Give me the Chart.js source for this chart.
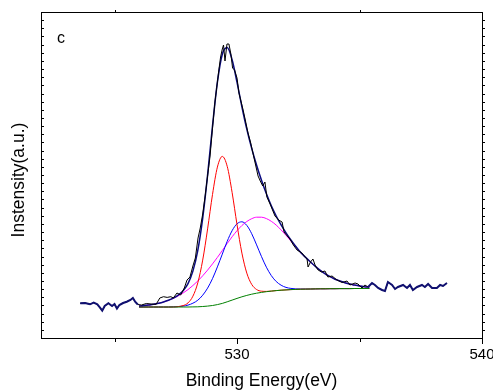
<!DOCTYPE html>
<html><head><meta charset="utf-8">
<script src="https://cdn.jsdelivr.net/npm/chart.js@4.4.1/dist/chart.umd.min.js"></script>
<style>html,body{margin:0;padding:0;background:#fff;overflow:hidden}#wrap{width:493px;height:392px;position:relative}</style>
</head><body><div id="wrap"><canvas id="c"></canvas></div>
<script>
// ---- Data (binding energy in eV, intensity in arbitrary units) ----
const rawEnergy = [523.6,523.8,524.0,524.15,524.3,524.4,524.5,524.6,524.75,524.9,525.0,525.1,525.2,525.35,525.5,525.65,525.75,525.85,525.95,526.1,526.3,526.5,526.7,526.85,527.0,527.15,527.3,527.4,527.55,527.7,527.85,527.96,528.08,528.2,528.3,528.41,528.5,528.6,528.7,528.82,528.9,529.0,529.1,529.18,529.27,529.33,529.4,529.45,529.51,529.59,529.67,529.75,529.82,529.9,530.0,530.08,530.15,530.24,530.33,530.45,530.55,530.65,530.75,530.86,530.95,531.05,531.14,531.22,531.35,531.45,531.55,531.7,531.84,531.92,532.05,532.16,532.3,532.45,532.65,532.78,532.86,532.9,533.0,533.1,533.2,533.31,533.45,533.59,533.71,533.88,534.08,534.29,534.49,534.61,534.82,534.94,535.1,535.22,535.35,535.51,535.63,535.76,535.92,536.04,536.16,536.33,536.45,536.57,536.78,536.94,537.06,537.18,537.35,537.55,537.67,537.8,537.96,538.16,538.29,538.41,538.57];
const rawCounts = [34.7,35.0,33.7,35.3,33.7,30.7,27.3,32.0,34.7,32.0,34.0,29.5,33.0,35.0,36.3,38.0,40.0,36.0,33.5,33.0,34.5,34.0,33.7,40.0,41.3,40.6,41.3,40.0,45.0,43.0,50.0,58.0,61.0,72.0,80.0,100.0,110.0,124.0,142.0,166.0,182.0,210.0,236.0,252.0,270.0,281.0,289.0,293.0,277.0,294.0,294.0,284.0,270.0,268.0,260.0,245.0,238.0,229.0,219.0,205.0,196.0,185.0,174.0,162.0,157.0,152.0,156.0,141.0,134.0,128.0,122.0,118.0,116.0,106.0,102.0,99.0,93.0,88.0,85.0,81.0,79.0,71.0,76.0,79.0,72.0,68.0,66.0,67.0,61.0,62.0,58.0,55.5,57.0,53.0,55.0,54.0,50.0,53.0,51.0,55.0,53.0,50.0,48.0,47.0,56.0,53.0,49.0,51.0,53.0,50.0,53.0,48.0,51.0,53.0,51.0,54.0,50.0,50.0,53.0,52.0,55.0];

const fitEnergy = [526.0,526.2,526.4,526.6,526.8,527.0,527.2,527.4,527.6,527.8,528.0,528.2,528.4,528.6,528.8,529.0,529.2,529.4,529.6,529.8,530.0,530.2,530.4,530.6,530.8,531.0,531.2,531.4,531.6,531.8,532.0,532.2,532.4,532.6,532.8,533.0,533.2,533.4,533.6,533.8,534.0,534.2,534.4,534.6,534.8,535.0,535.2,535.4];
const baseline = [31.0,31.0,31.0,31.0,31.0,31.0,31.0,31.0,31.0,31.0,31.0,31.1,31.2,31.5,31.9,32.5,33.4,34.6,36.2,37.9,39.6,41.2,42.6,43.8,44.8,45.6,46.3,46.9,47.4,47.8,48.1,48.4,48.6,48.8,48.9,49.0,49.1,49.2,49.2,49.3,49.3,49.4,49.4,49.4,49.5,49.5,49.5,49.5];
const peakRed = [31.0,31.0,31.0,31.0,31.0,31.0,31.0,31.0,31.4,32.4,35.1,41.8,55.2,77.9,109.1,143.5,170.9,181.6,171.7,145.6,113.5,84.9,64.9,53.6,48.5,46.8,46.6,46.9,47.4,47.8,48.1,48.4,48.6,48.8,48.9,49.0,49.1,49.2,49.2,49.3,49.3,49.4,49.4,49.4,49.5,49.5,49.5,49.5];
const peakBlue = [31.0,31.0,31.0,31.0,31.0,31.0,31.0,31.2,31.4,31.9,32.9,34.8,37.8,42.8,49.9,59.4,71.1,83.9,96.7,107.3,114.2,116.2,112.6,104.3,93.1,81.4,70.8,62.4,56.5,52.8,50.6,49.6,49.1,49.0,49.0,49.0,49.1,49.2,49.2,49.3,49.3,49.4,49.4,49.4,49.5,49.5,49.5,49.5];
const peakMagenta = [32.0,32.4,33.0,33.7,34.7,36.0,37.6,39.6,42.1,45.0,48.4,52.5,57.0,62.2,67.9,74.1,80.6,87.5,94.5,101.2,107.3,112.5,116.5,119.3,120.8,120.8,119.4,116.7,112.9,108.1,102.7,96.9,91.0,85.2,80.4,76.0,71.6,67.7,64.2,61.3,58.8,57.0,55.3,53.9,52.9,52.0,51.3,50.8];
const envelope = [32.0,32.4,33.0,33.7,34.7,36.0,37.7,39.9,42.9,47.3,54.4,66.9,87.6,119.9,163.1,212.0,255.8,283.8,290.5,278.3,255.8,231.2,208.8,189.6,172.8,157.8,144.2,132.2,122.0,113.1,105.2,98.1,91.5,85.4,80.6,76.0,71.6,67.7,64.2,61.3,58.8,57.0,55.3,53.9,52.9,52.0,51.3,50.8];

const xTickValues = [525, 530, 535, 540];
const xTickLabels = ['', '530', '', '540'];
const xMajor = [false, true, false, true];
const xTitle = 'Binding Energy(eV)';
const yTitle = 'Instensity(a.u.)';
const panelLetter = 'c';

// ---- Build point lists ----
const pts = (xs, ys) => xs.map((x, i) => ({x: x, y: ys[i]}));
const rawPts = pts(rawEnergy, rawCounts);
const edgePts = rawPts.map(p => (p.x <= 526.0 || p.x >= 535.35) ? p : {x: p.x, y: null});

const FONT = "'Liberation Sans', Arial, Helvetica, sans-serif";

const frameTicks = {
  id: 'frameTicks',
  afterDraw(chart) {
    const {ctx, chartArea: a, scales: {x, y}} = chart;
    ctx.save();
    ctx.strokeStyle = '#000';
    ctx.lineWidth = 1;
    ctx.beginPath();
    ctx.moveTo(a.left, a.top + 0.5); ctx.lineTo(a.right + 1, a.top + 0.5);
    ctx.moveTo(a.right + 0.5, a.top); ctx.lineTo(a.right + 0.5, a.bottom + 1);
    for (let i = 1; i < 40; i++) {
      const py = Math.round(y.getPixelForValue(i * (y.max - y.min) / 40)) + 0.5;
      ctx.moveTo(a.left + 1, py); ctx.lineTo(a.left + 3, py);
      ctx.moveTo(a.right + 1, py); ctx.lineTo(a.right + 3, py);
    }
    xTickValues.forEach((v, i) => {
      const px = Math.round(x.getPixelForValue(v)) + 0.5;
      const len = xMajor[i] ? 5 : 3;
      ctx.moveTo(px, a.bottom + 1); ctx.lineTo(px, a.bottom + 1 + len);
      if (!xMajor[i]) { ctx.moveTo(px, a.top - 2); ctx.lineTo(px, a.top); }
    });
    ctx.stroke();
    ctx.fillStyle = '#000';
    ctx.font = '16px ' + FONT;
    ctx.textBaseline = 'alphabetic';
    ctx.fillText(panelLetter, 57, 43);
    // y axis title
    ctx.translate(19.5, (a.top + a.bottom) / 2 + 5);
    ctx.rotate(-Math.PI / 2);
    ctx.font = '17.5px ' + FONT;
    ctx.textAlign = 'center';
    ctx.textBaseline = 'middle';
    ctx.fillText(yTitle, 0, 0);
    ctx.restore();
  }
};

const line = (data, color, width, order, smooth) => ({
  data: data, borderColor: color, borderWidth: width, showLine: true,
  pointRadius: 0, fill: false, order: order, spanGaps: false,
  cubicInterpolationMode: smooth ? 'monotone' : 'default', tension: 0
});

new Chart(document.getElementById('c'), {
  type: 'scatter',
  data: {
    datasets: [
      line(edgePts, '#101070', 2, 0, false),
      line(rawPts, '#000000', 1, 1, false),
      line(pts(fitEnergy, envelope), '#0a0a80', 1.5, 2, true),
      line(pts(fitEnergy, baseline), '#008000', 1, 3, true),
      line(pts(fitEnergy, peakRed), '#ff0000', 1, 4, true),
      line(pts(fitEnergy, peakBlue), '#0000ff', 1, 5, true),
      line(pts(fitEnergy, peakMagenta), '#ff00ff', 1, 6, true)
    ]
  },
  options: {
    responsive: true, maintainAspectRatio: false, animation: false,
    layout: {padding: {left: 0, right: 11, top: 12, bottom: 0}},
    plugins: {legend: {display: false}, tooltip: {enabled: false}},
    elements: {point: {radius: 0}},
    scales: {
      x: {
        type: 'linear', position: 'bottom', min: 522, max: 540,
        afterBuildTicks: s => { s.ticks = xTickValues.map(v => ({value: v})); },
        ticks: {
          autoSkip: false, maxRotation: 0, padding: 8, color: '#000',
          font: {family: FONT, size: 15},
          callback: (v, i) => xTickLabels[i]
        },
        grid: {display: false, drawTicks: false},
        border: {display: true, color: '#000', width: 1},
        title: {display: true, text: xTitle, color: '#000',
                font: {family: FONT, size: 17.5}, padding: {top: 0, bottom: 0}},
        afterFit: s => { s.height = 54; s.paddingLeft = 0; s.paddingRight = 0; }
      },
      y: {
        type: 'linear', position: 'left', min: 0, max: 326,
        ticks: {display: false},
        grid: {display: false, drawTicks: false},
        border: {display: true, color: '#000', width: 1},
        title: {display: false},
        afterFit: s => { s.width = 41; s.paddingTop = 0; s.paddingBottom = 0; }
      }
    }
  },
  plugins: [frameTicks]
});
</script></body></html>
